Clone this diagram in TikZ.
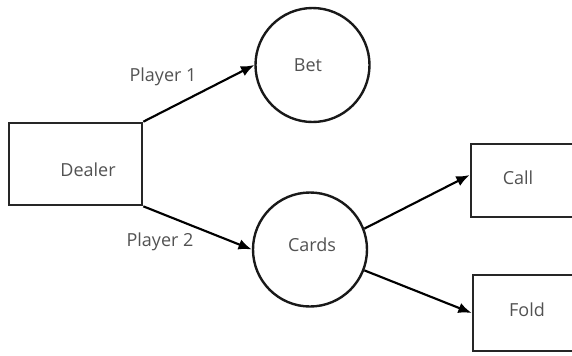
\documentclass[tikz,border=0pt]{standalone}
\usepackage{fontspec}
\setmainfont{Open Sans}
\usepackage{tikz}
\usetikzlibrary{arrows.meta}

\begin{document}
\begin{tikzpicture}[x=0.75pt,y=0.75pt,yscale=-1,xscale=1,
    box/.style={draw, line width=2pt, rectangle, inner sep=0pt, draw=black!85},
    ring/.style={draw, line width=1.8pt, circle, inner sep=0pt, minimum size=85.5pt, draw=black!90},
    txt/.style={text=black!68, inner sep=0.75pt, font=\fontsize{13.5}{16}\selectfont},
    flow/.style={line width=1.6pt, -{Latex[length=10pt,width=8pt]}}]
    \path[use as bounding box] (0,0) rectangle (572,355); %set diagram size
    
    %Shape: Rectangle
    \node[box, minimum width=99.75pt, minimum height=61.5pt] (dealer) at (75.5,164) {};
    %Shape: Circle
    \node[ring] (bet) at (312.5,65) {};
    %Shape: Circle
    \node[ring] (cards) at (310,249.5) {};
    %Shape: Rectangle
    \node[box, minimum width=84pt, minimum height=54.75pt] (call) at (527,180.5) {};
    %Shape: Rectangle
    \node[box, minimum width=84pt, minimum height=57pt] (fold) at (529,313) {};
    
    %Straight Lines
    \draw[flow] (dealer.north east) -- (bet.west) ;
    %Straight Lines
    \draw[flow] (dealer.south east) -- (cards.west) ;
    %Straight Lines
    \draw[flow] (cards.21) -- (call.west |- 0,175) ;
    %Straight Lines
    \draw[flow] (cards.-21) -- (fold.west) ;
    
    % Text Node
    \node[txt] (dealertxt) at (88,170) {Dealer};
    % Text Node
    \node[txt] (bettxt) at (308,65) {Bet};
    % Text Node
    \node[txt] (cardstxt) at (312,245) {Cards};
    % Text Node
    \node[txt] (calltxt) at (518,178) {Call};
    % Text Node
    \node[txt] (foldtxt) at (527,310) {Fold};
    % Text Node
    \node[txt] (p1) at (163,77) {Player 1};
    % Text Node
    \node[txt] (p2) at (160,242) {Player 2};
\end{tikzpicture}
\end{document}
